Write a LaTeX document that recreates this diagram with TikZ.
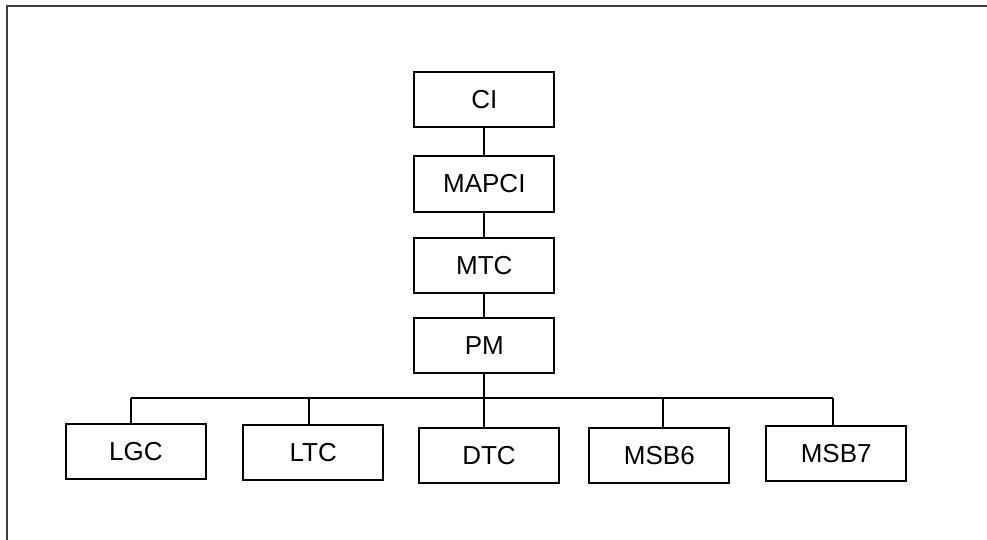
\documentclass[tikz,border=0pt]{standalone}
\usepackage{fontspec}
\setmainfont{Liberation Sans}
\begin{document}
\begin{tikzpicture}[x=1pt,y=-1pt,
  unit/.style={draw=black, line width=2pt, minimum width=140pt, minimum height=55pt,
    inner sep=0pt, outer sep=0pt, font=\fontsize{26}{30}\selectfont},
  link/.style={draw=black, line width=2pt}]
\useasboundingbox (0,0) rectangle (987,540);
% outer frame (only top and left edges fall inside the page)
\draw[black!75, line width=1.5pt] (7,540) -- (7,6) -- (987,6);

% management hierarchy
\node[unit] (ci)    at (484.3,99.3)  {CI};
\node[unit] (mapci) at (484.3,184)   {MAPCI};
\node[unit] (mtc)   at (484.3,265.8) {MTC};
\node[unit] (pm)    at (484.3,345.8) {PM};

% peripheral module types
\node[unit] (lgc)  at (135.8,451.8) {LGC};
\node[unit] (ltc)  at (313.3,452.6) {LTC};
\node[unit] (dtc)  at (489,455.7)   {DTC};
\node[unit] (msb6) at (659.3,455.3) {MSB6};
\node[unit] (msb7) at (836.2,453.8) {MSB7};

\draw[link] (ci) -- (mapci);
\draw[link] (mapci) -- (mtc);
\draw[link] (mtc) -- (pm);

% distribution bus below PM
\coordinate (j1) at (131,397.7);
\coordinate (j2) at (308.7,397.7);
\coordinate (j4) at (663.3,397.7);
\coordinate (j5) at (832.5,397.7);
\draw[link] (j1) -- (j5);
\draw[link] (pm.south) -- (pm.south |- dtc.north);
\draw[link] (j1) -- (j1 |- lgc.north);
\draw[link] (j2) -- (j2 |- ltc.north);
\draw[link] (j4) -- (j4 |- msb6.north);
\draw[link] (j5) -- (j5 |- msb7.north);
\end{tikzpicture}
\end{document}
